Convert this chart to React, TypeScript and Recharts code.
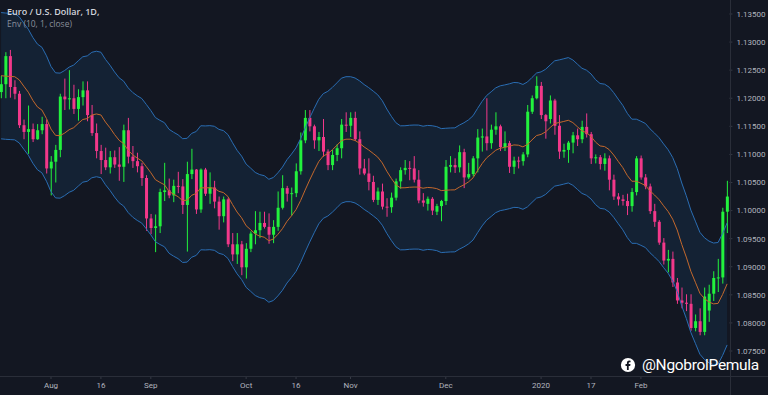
import React from 'react';
import { ComposedChart, Bar, Line, Area, XAxis, YAxis } from 'recharts';

// Trading days (EUR/USD, daily)
const monthDays: [string, number[]][] = [
  ['2019-07', [17, 18, 19, 22, 23, 24, 25, 26, 29, 30, 31]],
  ['2019-08', [1, 2, 5, 6, 7, 8, 9, 12, 13, 14, 15, 16, 19, 20, 21, 22, 23, 26, 27, 28, 29, 30]],
  ['2019-09', [2, 3, 4, 5, 6, 9, 10, 11, 12, 13, 16, 17, 18, 19, 20, 23, 24, 25, 26, 27, 30]],
  ['2019-10', [1, 2, 3, 4, 7, 8, 9, 10, 11, 14, 15, 16, 17, 18, 21, 22, 23, 24, 25, 28, 29, 30, 31]],
  ['2019-11', [1, 4, 5, 6, 7, 8, 11, 12, 13, 14, 15, 18, 19, 20, 21, 22, 25, 26, 27, 28, 29]],
  ['2019-12', [2, 3, 4, 5, 6, 9, 10, 11, 12, 13, 16, 17, 18, 19, 20, 23, 24, 26, 27, 30, 31]],
  ['2020-01', [2, 3, 6, 7, 8, 9, 10, 13, 14, 15, 16, 17, 20, 21, 22, 23, 24, 27, 28, 29, 30, 31]],
  ['2020-02', [3, 4, 5, 6, 7, 10, 11, 12, 13, 14, 17, 18, 19, 20, 21, 24, 25, 26, 27, 28]],
];
const dates: string[] = monthDays.flatMap(([m, ds]) => ds.map((d) => `${m}-${String(d).padStart(2, '0')}`));

const tickDates = ['2019-08-01', '2019-08-16', '2019-09-02', '2019-10-01', '2019-10-16', '2019-11-01', '2019-12-02', '2020-01-02', '2020-01-17', '2020-02-03'];
const tickLabels = ['Aug', '16', 'Sep', 'Oct', '16', 'Nov', 'Dec', '2020', '17', 'Feb'];
const priceTicks = [1.075, 1.08, 1.085, 1.09, 1.095, 1.1, 1.105, 1.11, 1.115, 1.12, 1.125, 1.13, 1.135];

// closes of the 9 sessions before the first visible bar (needed for the 10-period envelope)
const priorCloses = [1.1283, 1.1225, 1.1213, 1.1208, 1.1252, 1.1253, 1.1272, 1.1259, 1.1211];

const opens = [
  1.1211, 1.1225, 1.1275, 1.1220, 1.1208, 1.1152, 1.1140, 1.1145, 1.1127, 1.1143,
  1.1154, 1.1075, 1.1087, 1.1108, 1.1203, 1.1198, 1.1200, 1.1181, 1.1202, 1.1214,
  1.1170, 1.1138, 1.1106, 1.1090, 1.1077, 1.1095, 1.1082, 1.1078, 1.1143, 1.1096,
  1.1088, 1.1079, 1.1058, 1.0986, 1.0969, 1.0972, 1.1033, 1.1036, 1.1027, 1.1044,
  1.1043, 1.1010, 1.1065, 1.1073, 1.1002, 1.1073, 1.1030, 1.1041, 1.1016, 1.0990,
  1.1020, 1.0940, 1.0922, 1.0940, 1.0899, 1.0932, 1.0959, 1.0965, 1.0978, 1.0971,
  1.0957, 1.0971, 1.1005, 1.1040, 1.1030, 1.1031, 1.1070, 1.1125, 1.1165, 1.1150,
  1.1125, 1.1131, 1.1105, 1.1081, 1.1099, 1.1111, 1.1153, 1.1151, 1.1165, 1.1127,
  1.1075, 1.1066, 1.1051, 1.1019, 1.1034, 1.1007, 1.1006, 1.1023, 1.1052, 1.1072,
  1.1076, 1.1075, 1.1055, 1.1018, 1.1012, 1.1021, 1.0998, 1.1008, 1.1017, 1.1078,
  1.1081, 1.1077, 1.1104, 1.1059, 1.1065, 1.1093, 1.1130, 1.1132, 1.1120, 1.1144,
  1.1150, 1.1113, 1.1120, 1.1078, 1.1089, 1.1088, 1.1100, 1.1176, 1.1200, 1.1222,
  1.1170, 1.1163, 1.1196, 1.1151, 1.1105, 1.1108, 1.1121, 1.1134, 1.1127, 1.1149,
  1.1136, 1.1093, 1.1095, 1.1083, 1.1093, 1.1055, 1.1025, 1.1020, 1.1017, 1.1008,
  1.1033, 1.1093, 1.1059, 1.1043, 1.0999, 1.0980, 1.0943, 1.0911, 1.0914, 1.0872,
  1.0840, 1.0836, 1.0834, 1.0791, 1.0803, 1.0784, 1.0822, 1.0852, 1.0880, 1.0881,
  1.0998,
];

const highs = [
  1.1240, 1.1282, 1.1286, 1.1232, 1.1213, 1.1162, 1.1187, 1.1155, 1.1154, 1.1167,
  1.1162, 1.1097, 1.1117, 1.1208, 1.1235, 1.1250, 1.1224, 1.1216, 1.1230, 1.1230,
  1.1188, 1.1155, 1.1117, 1.1112, 1.1106, 1.1107, 1.1113, 1.1153, 1.1165, 1.1115,
  1.1103, 1.1085, 1.1063, 1.0994, 1.0993, 1.1039, 1.1085, 1.1057, 1.1055, 1.1069,
  1.1056, 1.1087, 1.1110, 1.1074, 1.1075, 1.1076, 1.1068, 1.1053, 1.1025, 1.1025,
  1.1023, 1.0960, 1.0960, 1.0946, 1.0942, 1.0963, 1.0999, 1.0998, 1.0998, 1.0995,
  1.0983, 1.1034, 1.1063, 1.1044, 1.1041, 1.1084, 1.1139, 1.1179, 1.1179, 1.1153,
  1.1140, 1.1163, 1.1109, 1.1108, 1.1118, 1.1163, 1.1175, 1.1175, 1.1176, 1.1141,
  1.1092, 1.1093, 1.1062, 1.1041, 1.1048, 1.1022, 1.1032, 1.1057, 1.1077, 1.1090,
  1.1088, 1.1097, 1.1072, 1.1031, 1.1025, 1.1024, 1.1012, 1.1019, 1.1090, 1.1097,
  1.1093, 1.1116, 1.1110, 1.1085, 1.1097, 1.1145, 1.1146, 1.1200, 1.1153, 1.1175,
  1.1153, 1.1141, 1.1124, 1.1096, 1.1096, 1.1104, 1.1188, 1.1205, 1.1239, 1.1229,
  1.1172, 1.1205, 1.1199, 1.1170, 1.1119, 1.1124, 1.1140, 1.1146, 1.1160, 1.1173,
  1.1140, 1.1100, 1.1099, 1.1102, 1.1098, 1.1064, 1.1031, 1.1028, 1.1030, 1.1040,
  1.1097, 1.1098, 1.1065, 1.1048, 1.1012, 1.0983, 1.0951, 1.0930, 1.0927, 1.0880,
  1.0863, 1.0851, 1.0851, 1.0815, 1.0826, 1.0863, 1.0868, 1.0892, 1.0914, 1.1005,
  1.1053,
];

const lows = [
  1.1200, 1.1200, 1.1201, 1.1198, 1.1147, 1.1127, 1.1101, 1.1122, 1.1126, 1.1136,
  1.1066, 1.1027, 1.1050, 1.1095, 1.1179, 1.1180, 1.1172, 1.1160, 1.1187, 1.1159,
  1.1133, 1.1093, 1.1065, 1.1072, 1.1066, 1.1076, 1.1053, 1.1051, 1.1084, 1.1076,
  1.1068, 1.1044, 1.0964, 1.0958, 1.0926, 1.0960, 1.1017, 1.1022, 1.1015, 1.1031,
  1.0994, 1.0927, 1.1056, 1.0994, 1.0996, 1.1026, 1.1012, 1.1004, 1.0966, 1.0979,
  1.0935, 1.0910, 1.0905, 1.0885, 1.0879, 1.0926, 1.0940, 1.0951, 1.0968, 1.0941,
  1.0942, 1.0964, 1.1002, 1.1016, 1.0991, 1.1024, 1.1064, 1.1120, 1.1141, 1.1110,
  1.1106, 1.1096, 1.1072, 1.1072, 1.1088, 1.1093, 1.1140, 1.1131, 1.1124, 1.1064,
  1.1063, 1.1036, 1.1015, 1.1010, 1.1002, 1.0989, 1.0996, 1.1018, 1.1039, 1.1064,
  1.1054, 1.1050, 1.1013, 1.1007, 1.1000, 1.0992, 1.0992, 1.0981, 1.1010, 1.1068,
  1.1067, 1.1068, 1.1040, 1.1056, 1.1061, 1.1068, 1.1105, 1.1107, 1.1110, 1.1135,
  1.1106, 1.1106, 1.1067, 1.1065, 1.1075, 1.1080, 1.1095, 1.1172, 1.1198, 1.1163,
  1.1128, 1.1155, 1.1135, 1.1092, 1.1094, 1.1085, 1.1102, 1.1115, 1.1120, 1.1130,
  1.1083, 1.1084, 1.1073, 1.1071, 1.1036, 1.1019, 1.1009, 1.1009, 1.0992, 1.0998,
  1.1027, 1.1055, 1.1038, 1.0994, 1.0971, 1.0939, 1.0904, 1.0890, 1.0864, 1.0834,
  1.0826, 1.0821, 1.0786, 1.0785, 1.0778, 1.0778, 1.0802, 1.0839, 1.0855, 1.0870,
  1.0960,
];

const closes = [
  1.1225, 1.1275, 1.1220, 1.1208, 1.1152, 1.1140, 1.1145, 1.1127, 1.1143, 1.1154,
  1.1075, 1.1087, 1.1108, 1.1203, 1.1198, 1.1200, 1.1181, 1.1202, 1.1214, 1.1170,
  1.1138, 1.1106, 1.1090, 1.1077, 1.1095, 1.1082, 1.1078, 1.1143, 1.1096, 1.1088,
  1.1079, 1.1058, 1.0986, 1.0969, 1.0972, 1.1033, 1.1036, 1.1027, 1.1044, 1.1043,
  1.1010, 1.1065, 1.1073, 1.1002, 1.1073, 1.1030, 1.1041, 1.1016, 1.0990, 1.1020,
  1.0940, 1.0922, 1.0940, 1.0899, 1.0932, 1.0959, 1.0965, 1.0978, 1.0971, 1.0957,
  1.0971, 1.1005, 1.1040, 1.1030, 1.1031, 1.1070, 1.1125, 1.1165, 1.1150, 1.1125,
  1.1131, 1.1105, 1.1081, 1.1099, 1.1111, 1.1153, 1.1151, 1.1165, 1.1127, 1.1075,
  1.1066, 1.1051, 1.1019, 1.1034, 1.1007, 1.1006, 1.1023, 1.1052, 1.1072, 1.1076,
  1.1075, 1.1055, 1.1018, 1.1014, 1.1021, 1.1000, 1.1008, 1.1017, 1.1078, 1.1081,
  1.1077, 1.1104, 1.1059, 1.1065, 1.1093, 1.1130, 1.1132, 1.1120, 1.1144, 1.1150,
  1.1113, 1.1120, 1.1078, 1.1089, 1.1088, 1.1100, 1.1176, 1.1200, 1.1222, 1.1170,
  1.1159, 1.1196, 1.1151, 1.1105, 1.1108, 1.1121, 1.1134, 1.1127, 1.1149, 1.1136,
  1.1093, 1.1095, 1.1083, 1.1093, 1.1055, 1.1025, 1.1020, 1.1017, 1.1008, 1.1033,
  1.1093, 1.1059, 1.1043, 1.0999, 1.0980, 1.0943, 1.0911, 1.0914, 1.0872, 1.0840,
  1.0836, 1.0834, 1.0791, 1.0803, 1.0784, 1.0847, 1.0852, 1.0880, 1.0881, 1.0998,
  1.1025,
];

const ENV_LENGTH = 10;
const ENV_PERCENT = 1;

const GREEN = '#22f23d';
const PINK = '#f2388a';
const BG = '#131722';

const allCloses = [...priorCloses, ...closes];
const data = dates.map((date, i) => {
  const window = allCloses.slice(i + priorCloses.length - ENV_LENGTH + 1, i + priorCloses.length + 1);
  const basis = window.reduce((s, v) => s + v, 0) / window.length;
  return {
    date,
    open: opens[i],
    high: highs[i],
    low: lows[i],
    close: closes[i],
    basis,
    upper: basis * (1 + ENV_PERCENT / 100),
    lower: basis * (1 - ENV_PERCENT / 100),
  };
});

const Candle = (props: any) => {
  const { x, y, width, height, payload } = props;
  if (!payload) return null;
  const { open, close, high, low } = payload;
  const cx = x + width / 2;
  const ratio = high - low > 0 ? height / (high - low) : 0;
  const yOf = (v: number) => y + (high - v) * ratio;
  const up = close >= open;
  const color = up ? GREEN : PINK;
  const top = yOf(Math.max(open, close));
  const bot = yOf(Math.min(open, close));
  return (
    <g>
      <line x1={cx} x2={cx} y1={y} y2={y + height} stroke={color} strokeWidth={1} />
      <rect x={cx - 1.5} y={top} width={3} height={Math.max(1, bot - top)} fill={color} />
    </g>
  );
};

const tickMap: Record<string, string> = Object.fromEntries(tickDates.map((d, i) => [d, tickLabels[i]]));

export default function App() {
  return (
    <div style={{ position: 'fixed', left: 0, top: 0, width: 768, height: 395, background: BG, overflow: 'hidden', fontFamily: 'Roboto, sans-serif' }}>
      <div style={{ position: 'absolute', left: -2, top: 0 }}>
        <ComposedChart width={770} height={395} data={data} margin={{ top: 0, right: 0, bottom: 0, left: 0.83 }} barCategoryGap={1}>
          <XAxis
            dataKey="date"
            ticks={tickDates}
            tickFormatter={(v: string) => tickMap[v] ?? ''}
            height={19}
            interval={0}
            axisLine={false}
            tickLine={{ stroke: '#363a45' }}
            tickSize={3}
            tickMargin={3}
            tick={{ fill: '#b2b5be', fontSize: 8 }}
          />
          <YAxis
            orientation="right"
            width={38.6}
            domain={[1.07055, 1.13749]}
            allowDataOverflow
            ticks={priceTicks}
            tickFormatter={(v: number) => v.toFixed(5)}
            axisLine={false}
            tickLine={{ stroke: '#363a45' }}
            tickSize={3}
            tickMargin={4}
            tick={{ fill: '#b2b5be', fontSize: 8 }}
          />
          <Area
            dataKey={(d: any) => [d.lower, d.upper]}
            type="linear"
            stroke="none"
            fill="#2196f3"
            fillOpacity={0.09}
            isAnimationActive={false}
            activeDot={false}
          />
          <Line dataKey="upper" type="linear" stroke="#2a6db3" strokeWidth={1} dot={false} isAnimationActive={false} activeDot={false} />
          <Line dataKey="lower" type="linear" stroke="#2a6db3" strokeWidth={1} dot={false} isAnimationActive={false} activeDot={false} />
          <Line dataKey="basis" type="linear" stroke="#c4682c" strokeWidth={1} dot={false} isAnimationActive={false} activeDot={false} />
          <Bar dataKey={(d: any) => [d.low, d.high]} shape={Candle} isAnimationActive={false} />
        </ComposedChart>
      </div>
      <div style={{ position: 'absolute', left: 0, top: 376, width: 768, height: 1, background: '#2a2e39' }} />
      <div style={{ position: 'absolute', left: 730, top: 0, width: 1, height: 395, background: '#2a2e39' }} />
      <div style={{ position: 'absolute', left: 7, top: 5, color: '#d1d4dc', fontSize: 9, fontWeight: 600, fontFamily: '"Open Sans", sans-serif' }}>
        Euro / U.S. Dollar, 1D,
      </div>
      <div style={{ position: 'absolute', left: 7, top: 18, color: '#8a8f9c', fontSize: 8.5, fontFamily: '"Open Sans", sans-serif' }}>
        Env (10, 1, close)
      </div>
      <div style={{ position: 'absolute', left: 620, top: 355, display: 'flex', alignItems: 'center', color: '#ffffff' }}>
        <svg width={16} height={16} viewBox="0 0 18 18">
          <circle cx={9} cy={9} r={8} fill="#ffffff" />
          <path d="M10.5 4 C8.5 4 7.8 5.2 7.8 6.8 L7.8 8 L6.2 8 L6.2 10 L7.8 10 L7.8 14.5 L9.8 14.5 L9.8 10 L11.5 10 L11.8 8 L9.8 8 L9.8 7 C9.8 6.4 10.1 6 10.8 6 L11.9 6 L11.9 4.1 Z" fill={BG} />
        </svg>
        <span style={{ marginLeft: 6, fontSize: 15.5, lineHeight: '20px', fontFamily: 'Roboto, sans-serif', fontWeight: 400, letterSpacing: -0.3 }}>@NgobrolPemula</span>
      </div>
    </div>
  );
}
